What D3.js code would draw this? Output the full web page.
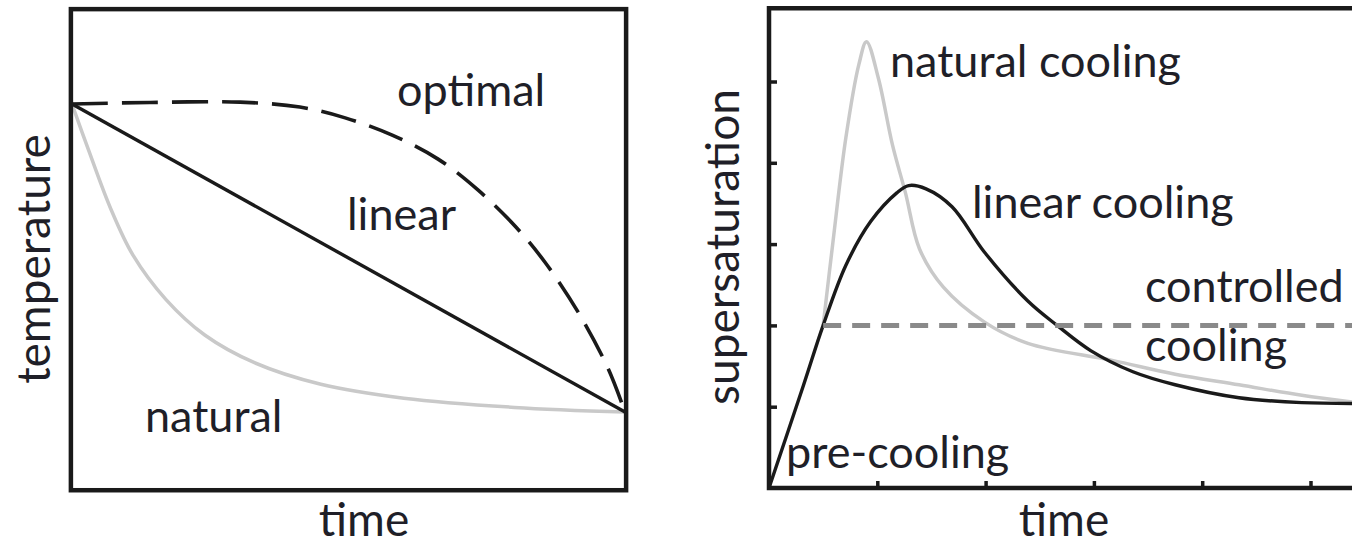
<!DOCTYPE html>
<html><head><meta charset="utf-8">
<script src="https://cdn.jsdelivr.net/npm/d3@7"></script>
<style>
body{margin:0;background:#fff;}
text{font-family:Lato,"Open Sans",sans-serif;fill:#1f1f28;}
</style>
</head><body>
<svg id="chart" width="1352" height="545"></svg>
<script>
// ---------- Left panel data (normalised time 0..1, temperature 0..1) ----------
const optimalTime  = [0, 0.141, 0.304, 0.412, 0.494, 0.579, 0.662, 0.734, 0.801, 0.855, 0.915, 0.969, 1];
const optimalTemp  = [1, 1.005, 1.006, 0.990, 0.955, 0.899, 0.821, 0.721, 0.604, 0.487, 0.325, 0.143, 0];
const linearTime   = [0, 1];
const linearTemp   = [1, 0];
const naturalTime  = [0, 0.03, 0.07, 0.11, 0.17, 0.24, 0.33, 0.45, 0.6, 0.8, 1];
const naturalTemp  = [1, 0.85, 0.66, 0.51, 0.365, 0.25, 0.16, 0.09, 0.045, 0.015, 0];
const leftLabels   = ["optimal", "linear", "natural"];

// ---------- Right panel data (time in tick units, supersaturation in tick units) ----------
const linCoolTime  = [0, 0.32, 0.5, 0.71, 0.94, 1.18, 1.29, 1.45, 1.69, 1.99, 2.39, 2.66, 2.97, 3.36, 3.75, 4.34, 4.92, 5.5];
const linCoolSat   = [0, 1.27, 2.0, 2.74, 3.28, 3.63, 3.72, 3.68, 3.46, 2.90, 2.30, 2.0, 1.69, 1.43, 1.27, 1.11, 1.05, 1.04];
const natCoolTime  = [0.5, 0.59, 0.71, 0.83, 0.9, 1.01, 1.14, 1.26, 1.39, 1.61, 1.99, 2.39, 3.17, 3.75, 4.34, 4.92, 5.5];
const natCoolSat   = [2.0, 3.02, 4.31, 5.21, 5.49, 5.04, 4.22, 3.63, 2.94, 2.47, 2.04, 1.78, 1.57, 1.40, 1.27, 1.14, 1.04];
const ctrlTime     = [0.5, 5.5];
const ctrlSat      = [2.0, 2.0];
const tickValues   = [1, 2, 3, 4, 5];
const rightLabels  = ["natural cooling", "linear cooling", "controlled", "cooling", "pre-cooling"];
const axisLabels   = ["temperature", "time", "supersaturation", "time"];

const svg = d3.select("#chart");
const zip = (a, b) => a.map((v, i) => [v, b[i]]);

// ================= LEFT PANEL =================
const xL = d3.scaleLinear().domain([0, 1]).range([72, 625]);
const yL = d3.scaleLinear().domain([0, 1]).range([412, 104]);
const gL = svg.append("g");

const lineL = d3.line().x(d => xL(d[0])).y(d => yL(d[1])).curve(d3.curveCatmullRom.alpha(0.5));

gL.append("path").datum(zip(naturalTime, naturalTemp)).attr("d", lineL)
  .attr("fill", "none").attr("stroke", "#c9c9c9").attr("stroke-width", 3.5);
gL.append("path").datum(zip(linearTime, linearTemp)).attr("d", lineL)
  .attr("fill", "none").attr("stroke", "#1a1a1a").attr("stroke-width", 3.4);
gL.append("path").datum(zip(optimalTime, optimalTemp)).attr("d", lineL)
  .attr("fill", "none").attr("stroke", "#1a1a1a").attr("stroke-width", 3.6)
  .attr("stroke-dasharray", "36 14");

// frame
const fx0 = xL(-0.002), fx1 = xL(1.002), fy0 = yL(1.308), fy1 = yL(-0.254);
gL.append("rect").attr("x", fx0).attr("y", fy0).attr("width", fx1 - fx0).attr("height", fy1 - fy0)
  .attr("fill", "none").attr("stroke", "#1a1a1a").attr("stroke-width", 4.5);

const fs = 45;
gL.append("text").attr("x", 397).attr("y", 106).attr("font-size", fs).text(leftLabels[0]);
gL.append("text").attr("x", 347).attr("y", 230).attr("font-size", fs).text(leftLabels[1]);
gL.append("text").attr("x", 145).attr("y", 432).attr("font-size", fs).text(leftLabels[2]);
gL.append("text").attr("transform", "translate(50,259) rotate(-90)").attr("text-anchor", "middle")
  .attr("font-size", 46).text(axisLabels[0]);
gL.append("text").attr("x", 364).attr("y", 536).attr("text-anchor", "middle")
  .attr("font-size", 46).text(axisLabels[1]);

// ================= RIGHT PANEL =================
const xR = d3.scaleLinear().domain([0, 1]).range([769, 769 + 108.3]);
const yR = d3.scaleLinear().domain([0, 1]).range([488, 488 - 81.3]);
const gR = svg.append("g");

const lineR = d3.line().x(d => xR(d[0])).y(d => yR(d[1])).curve(d3.curveCatmullRom.alpha(0.5));

gR.append("path").datum(zip(natCoolTime, natCoolSat)).attr("d", lineR)
  .attr("fill", "none").attr("stroke", "#c9c9c9").attr("stroke-width", 3.5);
gR.append("path").datum(zip(linCoolTime, linCoolSat)).attr("d", lineR)
  .attr("fill", "none").attr("stroke", "#1a1a1a").attr("stroke-width", 3.4);
gR.append("path").datum(zip(ctrlTime, ctrlSat)).attr("d", d3.line().x(d => xR(d[0])).y(d => yR(d[1])))
  .attr("fill", "none").attr("stroke", "#8a8a8a").attr("stroke-width", 5)
  .attr("stroke-dasharray", "18 11");

// axes ticks (inward)
const xAxis = d3.axisBottom(xR).tickValues(tickValues).tickSize(-7).tickFormat("");
const yAxis = d3.axisLeft(yR).tickValues(tickValues).tickSize(-8).tickFormat("");
const ax = gR.append("g").attr("transform", `translate(0,${yR(0)})`).call(xAxis);
const ay = gR.append("g").attr("transform", `translate(${xR(0)},0)`).call(yAxis);
[ax, ay].forEach(a => {
  a.select(".domain").remove();
  a.selectAll(".tick line").attr("stroke", "#1a1a1a").attr("stroke-width", 3.5);
});

// frame lines (left, top, bottom)
const rTop = yR(5.9), rRight = xR(5.7);
gR.append("path")
  .attr("d", `M${rRight},${rTop}H${xR(0)}V${yR(0)}H${rRight}`)
  .attr("fill", "none").attr("stroke", "#1a1a1a").attr("stroke-width", 4.5);

gR.append("text").attr("x", 890).attr("y", 77).attr("font-size", fs).text(rightLabels[0]);
gR.append("text").attr("x", 972).attr("y", 218).attr("font-size", fs).text(rightLabels[1]);
gR.append("text").attr("x", 1145).attr("y", 302).attr("font-size", fs).text(rightLabels[2]);
gR.append("text").attr("x", 1145).attr("y", 361).attr("font-size", fs).text(rightLabels[3]);
gR.append("text").attr("x", 786).attr("y", 468).attr("font-size", fs).text(rightLabels[4]);
gR.append("text").attr("transform", "translate(739,247) rotate(-90)").attr("text-anchor", "middle")
  .attr("font-size", 46).text(axisLabels[2]);
gR.append("text").attr("x", 1064).attr("y", 536).attr("text-anchor", "middle")
  .attr("font-size", 46).text(axisLabels[3]);
</script>
</body></html>
